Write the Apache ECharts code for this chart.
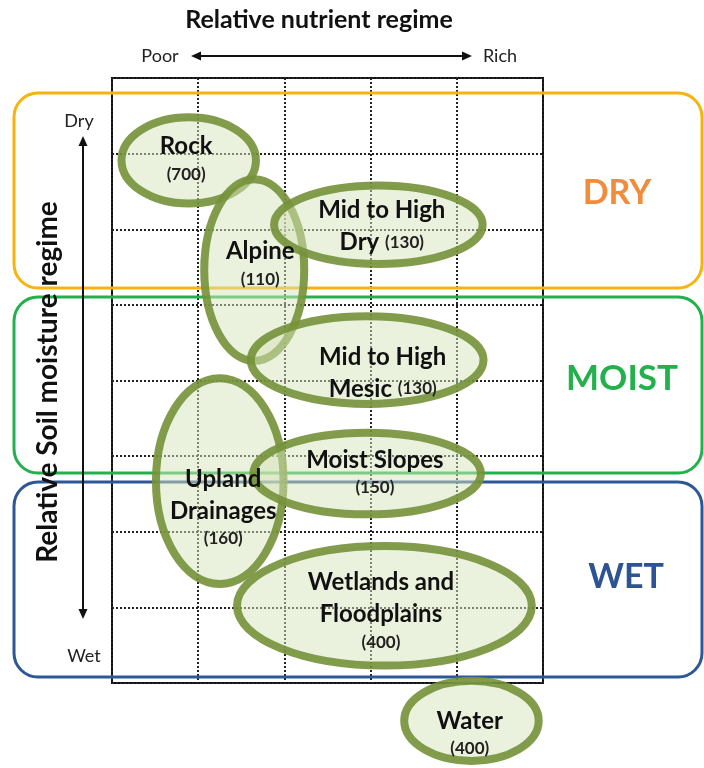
<!DOCTYPE html>
<html>
<head>
<meta charset="utf-8">
<script src="https://cdn.jsdelivr.net/npm/echarts@6/dist/echarts.min.js"></script>
<style>
  html, body { margin: 0; padding: 0; background: #fff; }
  #chart { width: 704px; height: 768px; }
</style>
</head>
<body>
<div id="chart"></div>
<script>
// ecosite zones placed on the nutrient (x) / moisture (y) grid
var zoneLines = [['Rock'], ['Alpine'], ['Mid to High', 'Dry'], ['Mid to High', 'Mesic'],
  ['Upland', 'Drainages'], ['Moist Slopes'], ['Wetlands and', 'Floodplains'], ['Water']];
var zoneCounts = [700, 110, 130, 130, 160, 150, 400, 400];
var countInline = [false, false, true, true, false, false, false, false];

// ellipse centre and half-spans, in grid units (x: 0-5 poor->rich, y: 0-8 dry->wet)
var centerX = [0.89, 1.65, 3.09, 2.96, 1.25, 2.96, 3.16, 4.17];
var centerY = [1.09, 2.54, 1.94, 3.73, 5.33, 5.23, 6.98, 8.50];
var spanX = [0.78, 0.58, 1.21, 1.35, 0.74, 1.32, 1.71, 0.78];
var spanY = [0.57, 1.20, 0.52, 0.58, 1.36, 0.54, 0.79, 0.53];

// where each label block sits
var labelX = [0.86, 1.72, 3.13, 3.14, 1.29, 3.05, 3.12, 4.15];
var labelY = [1.06, 2.45, 1.96, 3.90, 5.67, 5.21, 7.04, 8.66];

var FONT = 'Lato, "Liberation Sans", sans-serif';

var ellipseData = [];
var labelData = [];
for (var i = 0; i < zoneCounts.length; i++) {
  ellipseData.push([centerX[i], centerY[i], spanX[i], spanY[i]]);
  var lines = zoneLines[i].map(function (l) { return '{a|' + l + '}'; });
  var cnt = '{b|(' + zoneCounts[i] + ')}';
  if (countInline[i]) lines[lines.length - 1] += ' ' + cnt;
  else lines.push(cnt);
  labelData.push([labelX[i], labelY[i], lines.join('\n')]);
}

var myChart = echarts.init(document.getElementById('chart'));

myChart.setOption({
  animation: false,
  backgroundColor: '#fff',
  grid: {
    left: 112, right: 161, top: 78, bottom: 85,
    show: true, borderColor: '#111', borderWidth: 2
  },
  xAxis: {
    type: 'value', min: 0, max: 5, interval: 1,
    axisLine: { show: false }, axisTick: { show: false }, axisLabel: { show: false },
    splitLine: { show: true, lineStyle: { color: '#222', width: 2, type: [2, 2] } }
  },
  yAxis: {
    type: 'value', min: 0, max: 8, interval: 1, inverse: true,
    axisLine: { show: false }, axisTick: { show: false }, axisLabel: { show: false },
    splitLine: { show: true, lineStyle: { color: '#222', width: 2, type: [2, 2] } }
  },
  series: [
    {
      type: 'custom',
      clip: false,
      z: 3,
      data: ellipseData,
      renderItem: function (params, api) {
        var c = api.coord([api.value(0), api.value(1)]);
        var s = api.size([api.value(2), api.value(3)]);
        return {
          type: 'ellipse',
          shape: { cx: c[0], cy: c[1], rx: s[0], ry: s[1] },
          style: {
            fill: 'rgba(214,228,186,0.5)',
            stroke: 'rgba(116,145,56,0.9)',
            lineWidth: 8
          }
        };
      }
    },
    {
      type: 'custom',
      clip: false,
      z: 5,
      data: labelData,
      renderItem: function (params, api) {
        var c = api.coord([api.value(0), api.value(1)]);
        return {
          type: 'text',
          x: c[0], y: c[1],
          style: {
            text: labelData[params.dataIndex][2],
            align: 'center', verticalAlign: 'middle',
            fill: '#111',
            font: 'bold 24px ' + FONT,
            rich: {
              a: { fontFamily: FONT, fontWeight: 'bold', fontSize: 24, lineHeight: 32, fill: '#111' },
              b: { fontFamily: FONT, fontWeight: 'bold', fontSize: 17, lineHeight: 24, fill: '#222' }
            }
          }
        };
      }
    }
  ],
  graphic: [
    // moisture class boxes
    { type: 'rect', z: 1, shape: { x: 14, y: 93, width: 688, height: 195, r: 24 },
      style: { fill: 'none', stroke: '#f7b40f', lineWidth: 3 } },
    { type: 'rect', z: 1, shape: { x: 14, y: 297, width: 688, height: 176, r: 24 },
      style: { fill: 'none', stroke: '#22b14c', lineWidth: 3 } },
    { type: 'rect', z: 1, shape: { x: 14, y: 482, width: 688, height: 195, r: 24 },
      style: { fill: 'none', stroke: '#2e5797', lineWidth: 3 } },
    { type: 'text', z: 10, x: 617, y: 193,
      style: { text: 'DRY', fill: '#f28c3a', font: 'bold 34px ' + FONT, align: 'center', verticalAlign: 'middle' } },
    { type: 'text', z: 10, x: 622, y: 379,
      style: { text: 'MOIST', fill: '#22b14c', font: 'bold 35px ' + FONT, align: 'center', verticalAlign: 'middle' } },
    { type: 'text', z: 10, x: 626, y: 577,
      style: { text: 'WET', fill: '#2e5395', font: 'bold 34px ' + FONT, align: 'center', verticalAlign: 'middle' } },

    // nutrient axis
    { type: 'text', z: 10, x: 319, y: 20,
      style: { text: 'Relative nutrient regime', fill: '#111', font: 'bold 25px ' + FONT, align: 'center', verticalAlign: 'middle' } },
    { type: 'text', z: 10, x: 160, y: 56,
      style: { text: 'Poor', fill: '#222', font: '18px ' + FONT, align: 'center', verticalAlign: 'middle' } },
    { type: 'text', z: 10, x: 500, y: 56,
      style: { text: 'Rich', fill: '#222', font: '18px ' + FONT, align: 'center', verticalAlign: 'middle' } },
    { type: 'line', z: 10, shape: { x1: 198, y1: 56, x2: 466, y2: 56 },
      style: { stroke: '#111', lineWidth: 2 } },
    { type: 'polygon', z: 10, shape: { points: [[191, 56], [201, 51.5], [201, 60.5]] }, style: { fill: '#111' } },
    { type: 'polygon', z: 10, shape: { points: [[472, 56], [462, 51.5], [462, 60.5]] }, style: { fill: '#111' } },

    // moisture axis
    { type: 'text', z: 10, x: 79, y: 121,
      style: { text: 'Dry', fill: '#222', font: '18px ' + FONT, align: 'center', verticalAlign: 'middle' } },
    { type: 'text', z: 10, x: 84, y: 656,
      style: { text: 'Wet', fill: '#222', font: '18px ' + FONT, align: 'center', verticalAlign: 'middle' } },
    { type: 'line', z: 10, shape: { x1: 83, y1: 144, x2: 83, y2: 611 },
      style: { stroke: '#111', lineWidth: 2 } },
    { type: 'polygon', z: 10, shape: { points: [[83, 136], [78.5, 146], [87.5, 146]] }, style: { fill: '#111' } },
    { type: 'polygon', z: 10, shape: { points: [[83, 619], [78.5, 609], [87.5, 609]] }, style: { fill: '#111' } },
    { type: 'text', z: 10, x: 48, y: 382, rotation: Math.PI / 2,
      style: { text: 'Relative Soil moisture regime', fill: '#111', font: 'bold 28px ' + FONT, align: 'center', verticalAlign: 'middle' } }
  ]
});
</script>
</body>
</html>
